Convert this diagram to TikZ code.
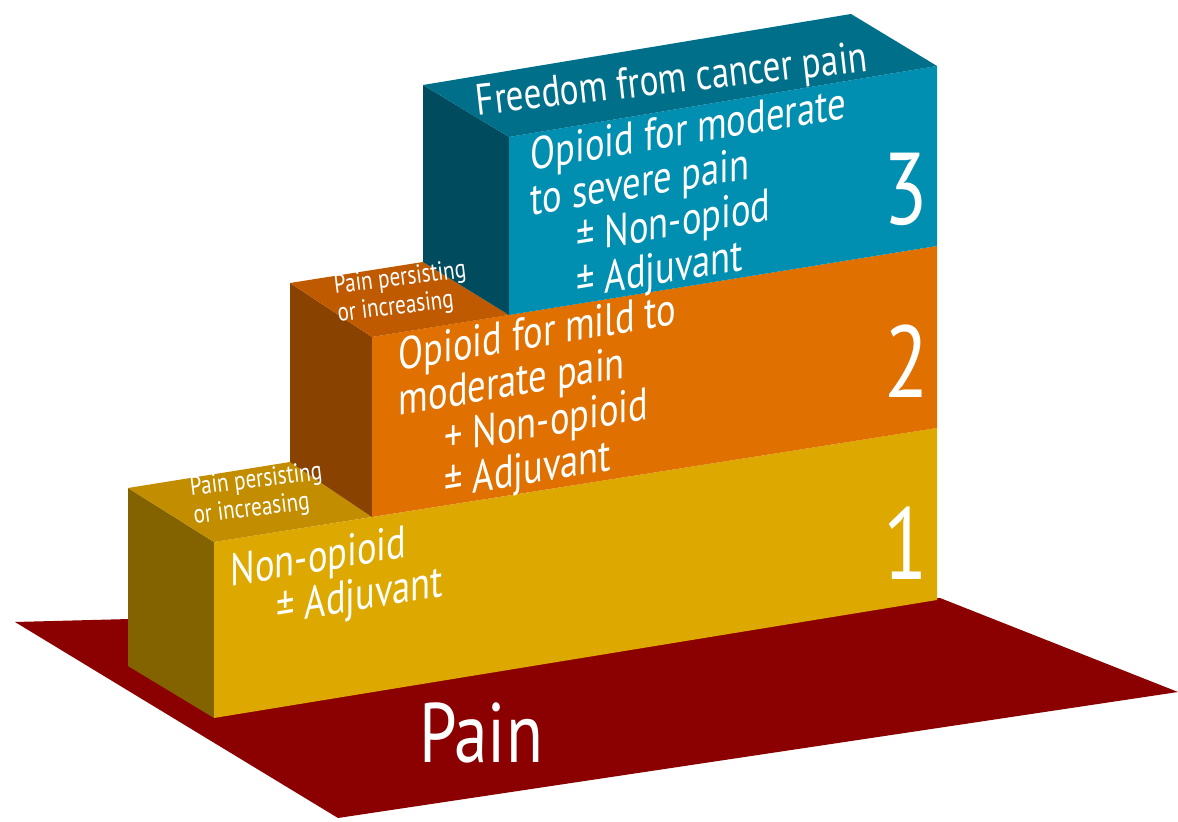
\documentclass[tikz,border=0pt]{standalone}
\usepackage{fontspec}
\setmainfont{PT Sans}
\newfontfamily\ladderfont[FakeStretch=0.8]{PT Sans}
\usepackage{tikz}
\usetikzlibrary{positioning}
\definecolor{painred}{RGB}{139,0,0}
\definecolor{yfront}{RGB}{221,168,0}
\definecolor{yside}{RGB}{131,99,0}
\definecolor{ytop}{RGB}{194,142,0}
\definecolor{ofront}{RGB}{224,112,0}
\definecolor{oside}{RGB}{138,66,0}
\definecolor{otop}{RGB}{192,90,0}
\definecolor{bfront}{RGB}{0,143,176}
\definecolor{bside}{RGB}{0,76,94}
\definecolor{btop}{RGB}{0,111,138}
\tikzstyle{face} = [draw=none]
\tikzstyle{steptext} = [text=white, font=\ladderfont\fontsize{13}{11.5}\selectfont, align=left, inner sep=0pt, yslant=0.165, anchor=north west]
\tikzstyle{stepnum} = [text=white, font=\ladderfont\fontsize{29}{29}\selectfont, inner sep=0pt]
\tikzstyle{toptext} = [text=white, font=\ladderfont\fontsize{7.5}{8}\selectfont, align=left, inner sep=0pt, rotate=7]

\begin{document}
\begin{tikzpicture}[x=0.01cm, y=-0.01cm]
    \useasboundingbox (0,0) rectangle (1178,822);
    % floor
    \fill [face, painred] (15,622) -- (940,598) -- (1178,692) -- (338,818) -- cycle;
    % step 1
    \fill [face, yside] (128,488) -- (214,542) -- (214,718) -- (128,666) -- cycle;
    \fill [face, yfront] (214,542) -- (937,428) -- (937,600) -- (214,718) -- cycle;
    \fill [face, ytop] (128,488) -- (290,462) -- (372,517) -- (214,542) -- cycle;
    % step 2
    \fill [face, oside] (290,283) -- (372,337) -- (372,517) -- (290,462) -- cycle;
    \fill [face, ofront] (372,337) -- (937,246) -- (937,428) -- (372,517) -- cycle;
    \fill [face, otop] (290,283) -- (423,262) -- (509,315) -- (372,337) -- cycle;
    % step 3
    \fill [face, bside] (423,85) -- (509,137) -- (509,315) -- (423,262) -- cycle;
    \fill [face, bfront] (509,137) -- (937,66) -- (937,246) -- (509,315) -- cycle;
    \fill [face, btop] (423,85) -- (851,14) -- (937,66) -- (509,137) -- cycle;

    \node (goal) [text=white, font=\ladderfont\fontsize{12.5}{12.5}\selectfont, rotate=6.5] at (672,82) {Freedom from cancer pain};
    \node (three) [steptext] at (530,137) {Opioid for moderate\\to severe pain\\\hspace*{1em}± Non-opiod\\\hspace*{1em}± Adjuvant};
    \node (two) [steptext] at (398,337) {Opioid for mild to\\moderate pain\\\hspace*{1em}+ Non-opioid\\\hspace*{1em}± Adjuvant};
    \node (one) [steptext] at (230,553) {Non-opioid\\\hspace*{1em}± Adjuvant};
    \node (n3) [stepnum] at (906,189) {3};
    \node (n2) [stepnum] at (907,361) {2};
    \node (n1) [stepnum] at (906,543) {1};
    \node (up2) [toptext] at (402,293) {Pain persisting\\or increasing};
    \node (up1) [toptext] at (258,495) {Pain persisting\\or increasing};
    \node (pain) [text=white, font=\ladderfont\fontsize{24}{24}\selectfont] at (481,733) {Pain};
\end{tikzpicture}
\end{document}
